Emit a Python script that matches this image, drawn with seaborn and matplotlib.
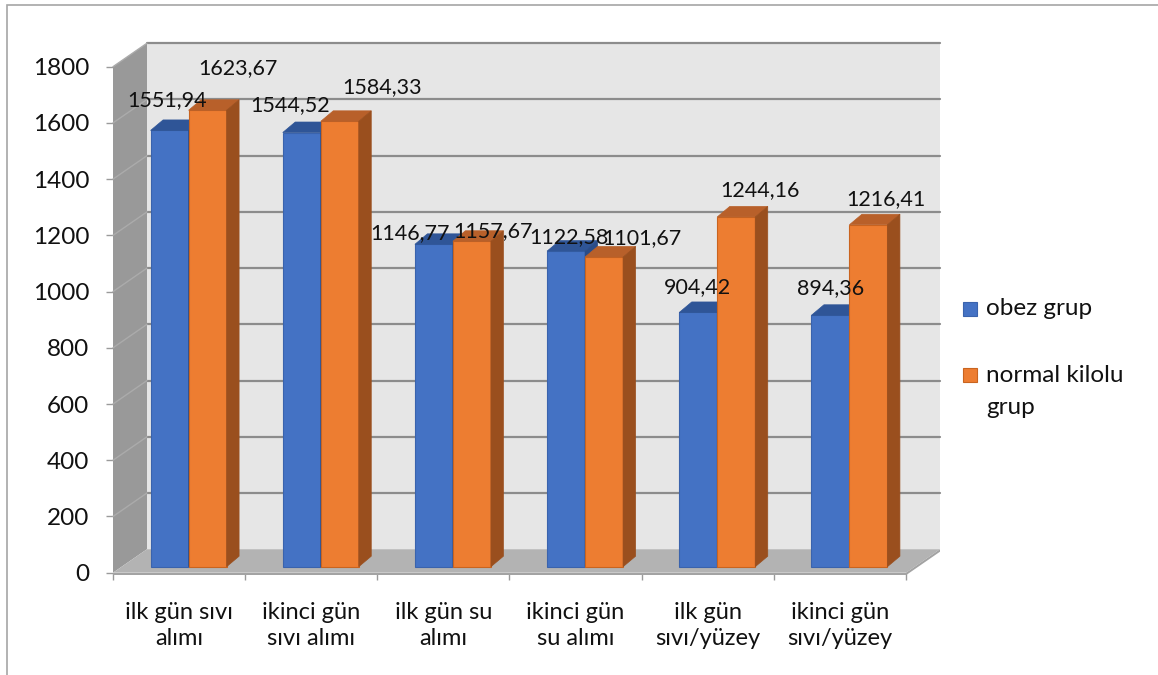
import numpy as np
import pandas as pd
import matplotlib
matplotlib.use("Agg")
import matplotlib.pyplot as plt
import seaborn as sns
from matplotlib.patches import Polygon, Rectangle
from matplotlib.transforms import ScaledTranslation, IdentityTransform

# ---- data -------------------------------------------------------------
categories = ["ilk gün sıvı\nalımı", "ikinci gün\nsıvı alımı", "ilk gün su\nalımı",
              "ikinci gün\nsu alımı", "ilk gün\nsıvı/yüzey", "ikinci gün\nsıvı/yüzey"]
obez_grup = [1551.94, 1544.52, 1146.77, 1122.58, 904.42, 894.36]
normal_grup = [1623.67, 1584.33, 1157.67, 1101.67, 1244.16, 1216.41]
series_names = ["obez grup", "normal kilolu grup"]
legend_labels = ["obez grup", "normal kilolu\ngrup"]
y_ticks = list(range(0, 2000, 200))

# ---- styling ----------------------------------------------------------
BLUE, ORANGE = "#4472C4", "#ED7D31"
face_styles = {
    BLUE: dict(edge="#3A63AD", top="#2F5597", side="#2A4C88"),
    ORANGE: dict(edge="#C9641F", top="#B8602A", side="#9A4F1E"),
}

sns.set_theme(style="white")
plt.rcParams["font.family"] = ["Lato", "DejaVu Sans"]

W, H, DPI = 1158, 675, 100
fig = plt.figure(figsize=(W / DPI, H / DPI), dpi=DPI)
fig.patch.set_facecolor("white")

# front plane of the 3-D box
x_left, x_right, y_base, y_top = 113, 906, 572.7, 66.7
ax = fig.add_axes([x_left / W, (H - y_base) / H, (x_right - x_left) / W, (y_base - y_top) / H])

df = pd.DataFrame({
    "kategori": categories * 2,
    "deger": obez_grup + normal_grup,
    "grup": [series_names[0]] * len(categories) + [series_names[1]] * len(categories),
})
sns.barplot(data=df, x="kategori", y="deger", hue="grup", hue_order=series_names,
            palette=[BLUE, ORANGE], width=0.575, saturation=1, legend=False,
            ax=ax, zorder=2)

ax.set_xlim(-0.5, len(categories) - 0.5)
ax.set_ylim(0, 1800)
ax.set_facecolor("none")
for s in ax.spines.values():
    s.set_visible(False)
ax.set_xlabel("")
ax.set_ylabel("")

# ticks
ax.set_yticks(y_ticks)
ax.set_yticklabels([str(v) for v in y_ticks])
ax.set_xticks(range(len(categories)))
ax.set_xticklabels(categories, linespacing=1.33)
ax.set_xticks(np.arange(-0.5, len(categories)), minor=True)
ax.tick_params(axis="y", left=True, length=5, width=1, color="#9a9a9a", pad=12,
               labelsize=17.5, labelcolor="#111111")
ax.tick_params(axis="x", which="major", bottom=True, length=0, pad=21,
               labelsize=17, labelcolor="#111111")
ax.tick_params(axis="x", which="minor", bottom=True, length=5, width=1, color="#9a9a9a")

ID = IdentityTransform()


def px(x, y):
    return np.array(ax.transData.transform((x, y)), dtype=float)


DEPTH = np.array([34.0, 23.5])          # back wall offset (pixels)
BAR_SHIFT = np.array([9.5, 6.0])        # bars stand partway into the box
BAR_DEPTH = np.array([12.5, 10.5])      # depth of each bar


def poly(points, **kw):
    p = Polygon(np.array(points), closed=True, transform=ID, clip_on=False, **kw)
    ax.add_patch(p)
    return p


x0, x1 = -0.5, len(categories) - 0.5
# back wall
poly([px(x0, 0) + DEPTH, px(x1, 0) + DEPTH, px(x1, 1800) + DEPTH, px(x0, 1800) + DEPTH],
     facecolor="#E6E6E6", edgecolor="none", zorder=0.5)
for v in y_ticks[1:]:
    a, b = px(x0, v) + DEPTH, px(x1, v) + DEPTH
    ax.add_line(plt.Line2D([a[0], b[0]], [a[1], b[1]], transform=ID, color="#8C8C8C",
                           lw=1.6, zorder=0.6, clip_on=False))
# left side wall
poly([px(x0, 0), px(x0, 1800), px(x0, 1800) + DEPTH, px(x0, 0) + DEPTH],
     facecolor="#999999", edgecolor="none", zorder=0.7)
for v in y_ticks[1:]:
    a, b = px(x0, v), px(x0, v) + DEPTH
    ax.add_line(plt.Line2D([a[0], b[0]], [a[1], b[1]], transform=ID, color="#ABABAB",
                           lw=1.0, zorder=0.8, clip_on=False))
# floor slab
fl, fr = px(x0, 0), px(x1, 0)
poly([fl, fr, fr + DEPTH, fl + DEPTH], facecolor="#B3B3B3", edgecolor="none", zorder=0.9)
poly([fl, fr, fr - [0, 2.5], fl - [0, 2.5]], facecolor="#A3A3A3", edgecolor="none", zorder=0.9)
poly([fr, fr + DEPTH, fr + DEPTH - [0, 2.5], fr - [0, 2.5]], facecolor="#A3A3A3",
     edgecolor="none", zorder=0.9)

# bars: shift the front faces and add top and side faces
shift_tr = ax.transData + ScaledTranslation(BAR_SHIFT[0] / DPI, BAR_SHIFT[1] / DPI,
                                            fig.dpi_scale_trans)
label_nudges = [
    [(-2, 30), (-12, 27), (-24, 11), (3, 14), (-1, 25), (0, 27)],
    [(30, 42), (42, 34), (21, 10), (38, 19), (24, 27), (18, 26)],
]
for si, (container, color) in enumerate(zip(ax.containers, [BLUE, ORANGE])):
    st = face_styles[color]
    values = obez_grup if si == 0 else normal_grup
    for bi, bar in enumerate(container):
        bar.set_transform(shift_tr)
        bar.set_edgecolor(st["edge"])
        bar.set_linewidth(0.8)
        bar.set_zorder(2.05 + si)
        bx, bw, bh = bar.get_x(), bar.get_width(), bar.get_height()
        fr_ = px(bx + bw, 0) + BAR_SHIFT
        tl_ = px(bx, bh) + BAR_SHIFT
        tr_ = px(bx + bw, bh) + BAR_SHIFT
        poly([tl_, tr_, tr_ + BAR_DEPTH, tl_ + BAR_DEPTH], facecolor=st["top"],
             edgecolor=st["top"], lw=0.5, zorder=2.1 + si)
        poly([fr_, tr_, tr_ + BAR_DEPTH, fr_ + BAR_DEPTH], facecolor=st["side"],
             edgecolor=st["side"], lw=0.5, zorder=2.1 + si)
        c = px(bx + bw / 2, values[bi]) + BAR_SHIFT + np.array(label_nudges[si][bi])
        ax.text(c[0], c[1], f"{values[bi]:.2f}".replace(".", ","), transform=ID,
                ha="center", va="center", fontsize=15.5, color="#111111", zorder=5,
                clip_on=False)

# legend
for (lab, color, yc) in zip(legend_labels, [BLUE, ORANGE], [309, 375]):
    fig.add_artist(Rectangle((963, H - yc - 7), 14, 14, transform=ID,
                             facecolor=color, edgecolor=face_styles[color]["edge"], lw=0.8))
    for k, line in enumerate(lab.split("\n")):
        fig.text(986 / W, (H - yc - 32 * k) / H, line, ha="left", va="center",
                 fontsize=17.5, color="#111111")

# chart border
fig.add_artist(Rectangle((6.7, -20), 1300, H - 5.3 + 20, transform=ID, fill=False,
                         edgecolor="#A6A6A6", lw=1.2))

fig.savefig("out.png", dpi=DPI)
